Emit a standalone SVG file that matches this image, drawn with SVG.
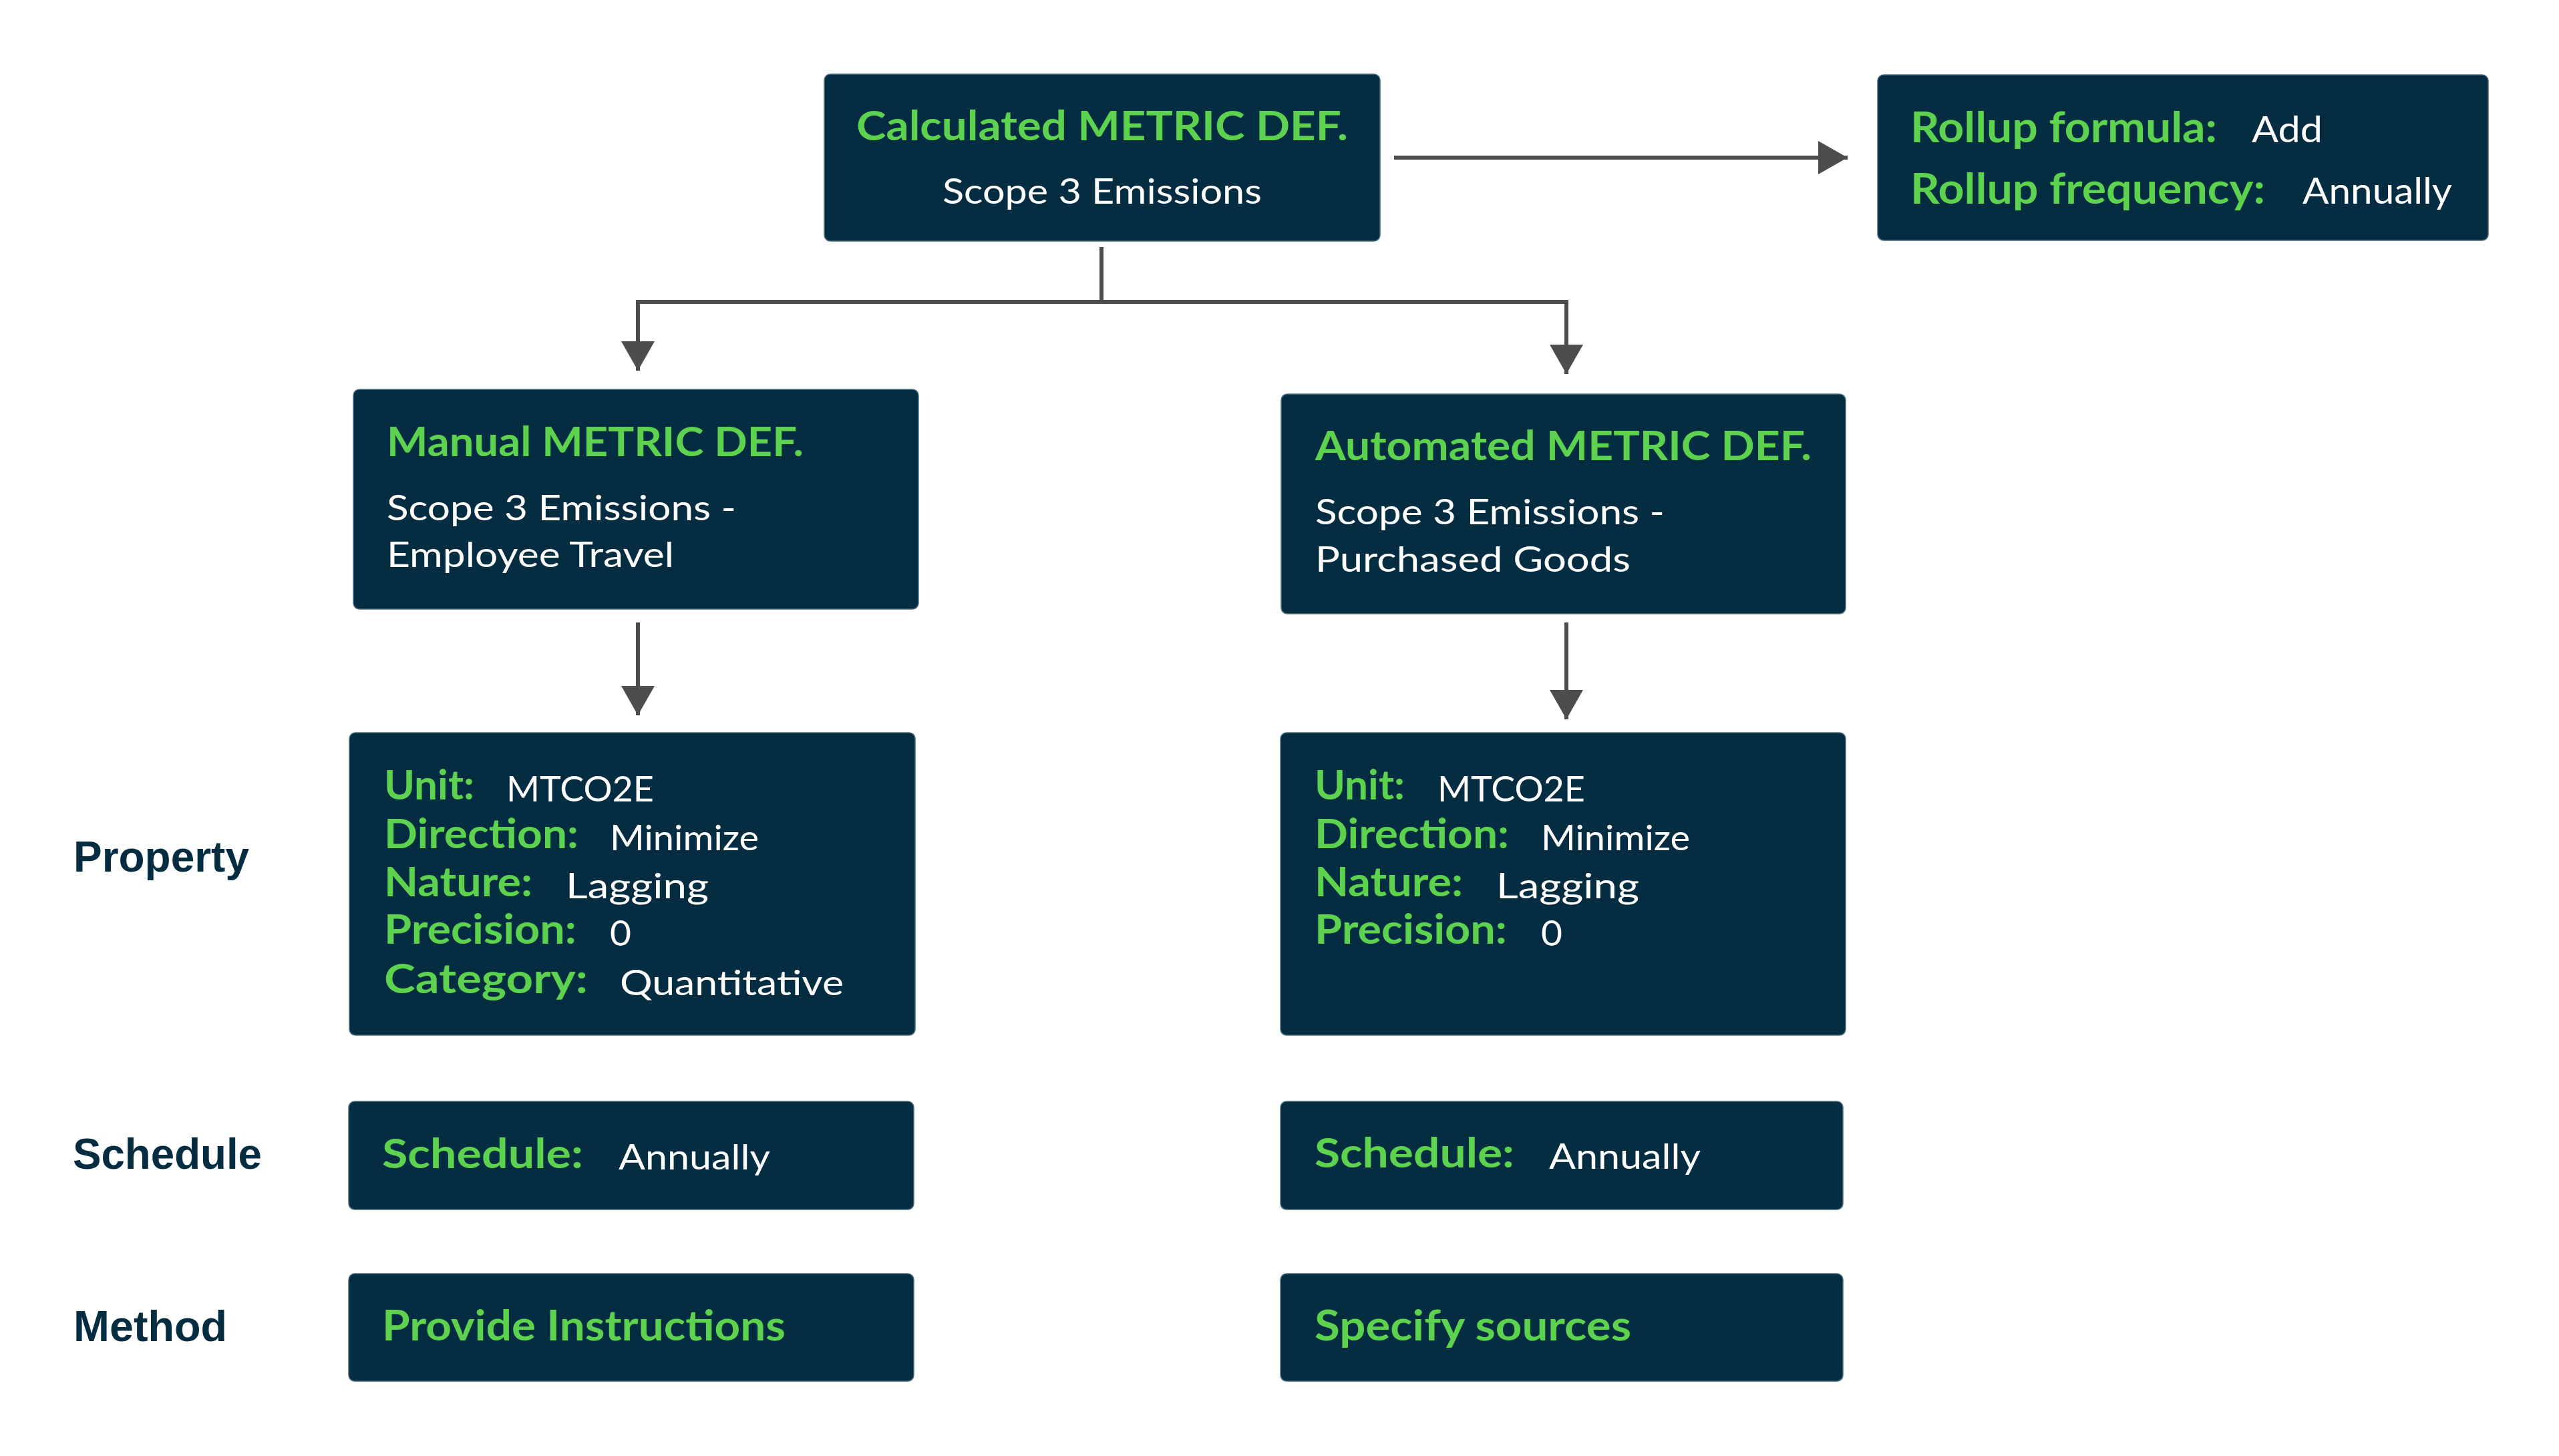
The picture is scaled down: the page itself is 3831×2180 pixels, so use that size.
<svg xmlns="http://www.w3.org/2000/svg" width="3831" height="2180" viewBox="0 0 3831 2180">
<style>
.box{fill:#052d42;stroke:#4f7080;stroke-width:1.5}
.g{font-family:Lato,"Open Sans",sans-serif;font-weight:700;fill:#5dd24f}
.w{font-family:Lato,"Open Sans",sans-serif;font-weight:400;fill:#ffffff}
.side{font-family:"Liberation Sans",Arial,sans-serif;font-weight:700;fill:#052d42;font-size:65px}
.conn{fill:none;stroke:#4d4d4d;stroke-width:6}
</style>
<defs>
<marker id="arrow" viewBox="0 0 44 50" refX="44" refY="25" markerWidth="44" markerHeight="50" markerUnits="userSpaceOnUse" orient="auto">
<path d="M0,0 L44,25 L0,50 z" fill="#4d4d4d"/>
</marker>
</defs>
<rect width="3831" height="2180" fill="#ffffff"/>

<g id="connectors">
<path class="conn" d="M1649 370 V452"/>
<path class="conn" d="M952 452 H2348"/>
<path class="conn" d="M955 452 V555" marker-end="url(#arrow)"/>
<path class="conn" d="M2345 452 V560" marker-end="url(#arrow)"/>
<path class="conn" d="M955 932 V1071" marker-end="url(#arrow)"/>
<path class="conn" d="M2345 932 V1077" marker-end="url(#arrow)"/>
<path class="conn" d="M2087 236 H2766" marker-end="url(#arrow)"/>
</g>

<g id="calculated">
<rect class="box" x="1234" y="111" width="832" height="250" rx="9"/>
<text class="g" x="1282" y="210" font-size="62" textLength="736" lengthAdjust="spacingAndGlyphs">Calculated METRIC DEF.</text>
<text class="w" x="1411" y="305" font-size="53" textLength="478" lengthAdjust="spacingAndGlyphs">Scope 3 Emissions</text>
</g>

<g id="rollup">
<rect class="box" x="2811" y="112" width="914" height="248" rx="9"/>
<text class="g" x="2860" y="213" font-size="64" textLength="459" lengthAdjust="spacingAndGlyphs">Rollup formula:</text>
<text class="w" x="3371" y="213" font-size="54" textLength="106" lengthAdjust="spacingAndGlyphs">Add</text>
<text class="g" x="2860" y="305" font-size="64" textLength="531" lengthAdjust="spacingAndGlyphs">Rollup frequency:</text>
<text class="w" x="3447" y="305" font-size="54" textLength="224" lengthAdjust="spacingAndGlyphs">Annually</text>
</g>

<g id="manual">
<rect class="box" x="529" y="583" width="846" height="329" rx="9"/>
<text class="g" x="579" y="683" font-size="62" textLength="624" lengthAdjust="spacingAndGlyphs">Manual METRIC DEF.</text>
<text class="w" x="579" y="779" font-size="53" textLength="523" lengthAdjust="spacingAndGlyphs">Scope 3 Emissions -</text>
<text class="w" x="579" y="849" font-size="53" textLength="430" lengthAdjust="spacingAndGlyphs">Employee Travel</text>
</g>

<g id="automated">
<rect class="box" x="1918" y="590" width="845" height="329" rx="9"/>
<text class="g" x="1969" y="689" font-size="62" textLength="743" lengthAdjust="spacingAndGlyphs">Automated METRIC DEF.</text>
<text class="w" x="1969" y="785" font-size="53" textLength="523" lengthAdjust="spacingAndGlyphs">Scope 3 Emissions -</text>
<text class="w" x="1969" y="856" font-size="53" textLength="472" lengthAdjust="spacingAndGlyphs">Purchased Goods</text>
</g>

<g id="property-manual">
<rect class="box" x="523" y="1097" width="847" height="453" rx="9"/>
<text class="g" x="575" y="1197" font-size="62" textLength="135" lengthAdjust="spacingAndGlyphs">Unit:</text>
<text class="w" x="758" y="1200" font-size="53" textLength="221" lengthAdjust="spacingAndGlyphs">MTCO2E</text>
<text class="g" x="575" y="1270" font-size="62" textLength="291" lengthAdjust="spacingAndGlyphs">Direction:</text>
<text class="w" x="913" y="1273" font-size="53" textLength="223" lengthAdjust="spacingAndGlyphs">Minimize</text>
<text class="g" x="575" y="1342" font-size="62" textLength="222" lengthAdjust="spacingAndGlyphs">Nature:</text>
<text class="w" x="847" y="1345" font-size="53" textLength="214" lengthAdjust="spacingAndGlyphs">Lagging</text>
<text class="g" x="575" y="1413" font-size="62" textLength="288" lengthAdjust="spacingAndGlyphs">Precision:</text>
<text class="w" x="913" y="1416" font-size="53" textLength="32" lengthAdjust="spacingAndGlyphs">0</text>
<text class="g" x="575" y="1487" font-size="62" textLength="305" lengthAdjust="spacingAndGlyphs">Category:</text>
<text class="w" x="928" y="1490" font-size="53" textLength="335" lengthAdjust="spacingAndGlyphs">Quantitative</text>
</g>

<g id="property-automated">
<rect class="box" x="1917" y="1097" width="846" height="453" rx="9"/>
<text class="g" x="1968" y="1197" font-size="62" textLength="135" lengthAdjust="spacingAndGlyphs">Unit:</text>
<text class="w" x="2152" y="1200" font-size="53" textLength="221" lengthAdjust="spacingAndGlyphs">MTCO2E</text>
<text class="g" x="1968" y="1270" font-size="62" textLength="291" lengthAdjust="spacingAndGlyphs">Direction:</text>
<text class="w" x="2307" y="1273" font-size="53" textLength="223" lengthAdjust="spacingAndGlyphs">Minimize</text>
<text class="g" x="1968" y="1342" font-size="62" textLength="222" lengthAdjust="spacingAndGlyphs">Nature:</text>
<text class="w" x="2240" y="1345" font-size="53" textLength="214" lengthAdjust="spacingAndGlyphs">Lagging</text>
<text class="g" x="1968" y="1413" font-size="62" textLength="288" lengthAdjust="spacingAndGlyphs">Precision:</text>
<text class="w" x="2307" y="1416" font-size="53" textLength="32" lengthAdjust="spacingAndGlyphs">0</text>
</g>

<g id="schedule-manual">
<rect class="box" x="522" y="1649" width="846" height="162" rx="9"/>
<text class="g" x="572" y="1749" font-size="62" textLength="301" lengthAdjust="spacingAndGlyphs">Schedule:</text>
<text class="w" x="926" y="1751" font-size="53" textLength="227" lengthAdjust="spacingAndGlyphs">Annually</text>
</g>

<g id="schedule-automated">
<rect class="box" x="1917" y="1649" width="842" height="162" rx="9"/>
<text class="g" x="1968" y="1748" font-size="62" textLength="299" lengthAdjust="spacingAndGlyphs">Schedule:</text>
<text class="w" x="2319" y="1750" font-size="53" textLength="227" lengthAdjust="spacingAndGlyphs">Annually</text>
</g>

<g id="method-manual">
<rect class="box" x="522" y="1907" width="846" height="161" rx="9"/>
<text class="g" x="572" y="2007" font-size="63" textLength="604" lengthAdjust="spacingAndGlyphs">Provide Instructions</text>
</g>

<g id="method-automated">
<rect class="box" x="1917" y="1907" width="842" height="161" rx="9"/>
<text class="g" x="1968" y="2007" font-size="63" textLength="474" lengthAdjust="spacingAndGlyphs">Specify sources</text>
</g>

<g id="labels">
<text class="side" x="110" y="1305" textLength="263" lengthAdjust="spacingAndGlyphs">Property</text>
<text class="side" x="109" y="1750" textLength="283" lengthAdjust="spacingAndGlyphs">Schedule</text>
<text class="side" x="110" y="2008" textLength="230" lengthAdjust="spacingAndGlyphs">Method</text>
</g>
</svg>
